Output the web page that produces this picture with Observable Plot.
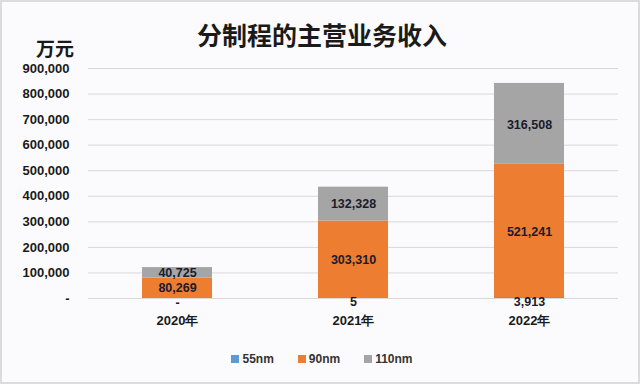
<!DOCTYPE html>
<html><head><meta charset="utf-8">
<script src="https://cdn.jsdelivr.net/npm/d3@7"></script>
<script src="https://cdn.jsdelivr.net/npm/@observablehq/plot@0.6"></script>
<style>
html,body{margin:0;padding:0;background:#fff;}
#wrap{position:relative;width:640px;height:384px;background:#fbfbfd;box-sizing:border-box;border:2px solid #dcdcdc;overflow:hidden;font-family:"Liberation Sans","Noto Sans CJK SC",sans-serif;}
#title{position:absolute;top:20px;left:0;width:640px;text-align:center;font:bold 25px/1 "Noto Sans CJK SC",sans-serif;color:#1a1a1a;}
#unit{position:absolute;top:36px;left:34px;font:bold 19px/1 "Noto Sans CJK SC",sans-serif;color:#1a1a1a;}
#chart{position:absolute;top:0;left:0;}
#legend{position:absolute;top:351px;left:0;width:640px;text-align:center;font:bold 12px/1 "Liberation Sans",sans-serif;color:#333;}
#legend span{display:inline-block;margin:0 12px;}
#legend i{display:inline-block;width:8px;height:8px;margin-right:3px;vertical-align:0px;}
</style></head>
<body>
<div id="wrap">
<div id="chart"></div>
<div id="title">分制程的主营业务收入</div>
<div id="unit">万元</div>
<div id="legend"></div>
</div>
<script>
const years = ["2020年", "2021年", "2022年"];
const seriesNames = ["55nm", "90nm", "110nm"];
const colors = ["#5B9BD5", "#ED7D31", "#A5A5A5"];
const v55 = [0, 5, 3913];
const v90 = [80269, 303310, 521241];
const v110 = [40725, 132328, 316508];
const yTicks = [0, 100000, 200000, 300000, 400000, 500000, 600000, 700000, 800000, 900000];

const values = [v55, v90, v110];
const data = [];
seriesNames.forEach((s, si) => years.forEach((y, yi) => data.push({year: y, series: s, value: values[si][yi]})));
const fmt = d => d === 0 ? "-" : d3.format(",")(d);

const chart = Plot.plot({
  width: 636, height: 380,
  marginTop: 66, marginBottom: 84, marginLeft: 86, marginRight: 20,
  style: {background: "transparent", fontFamily: "Liberation Sans, sans-serif"},
  x: {domain: years, label: null, paddingInner: 0.6, paddingOuter: 0.3, tickSize: 0, tickPadding: 17},
  y: {domain: [0, 900000], label: null, ticks: yTicks, tickFormat: fmt, tickSize: 0, tickPadding: 19},
  color: {domain: seriesNames, range: colors},
  marks: [
    Plot.ruleY(yTicks, {stroke: "#d9d9d9", strokeWidth: 1}),
    Plot.barY(data, {x: "year", y: "value", fill: "series", z: "series", order: seriesNames}),
    Plot.text(data, Plot.stackY({x: "year", y: "value", z: "series", order: seriesNames, text: d => fmt(d.value), fill: "#1b1b2b", fontWeight: "bold", fontSize: 12.5,
      filter: d => d.series !== "55nm"})),
    Plot.text(data, Plot.stackY({x: "year", y: "value", z: "series", order: seriesNames, text: d => fmt(d.value), fill: "#1b1b2b", fontWeight: "bold", fontSize: 12.5,
      filter: d => d.series === "55nm", dy: 4})),
    Plot.axisX({tickSize: 0, tickPadding: 17, fontWeight: "bold", fontSize: 13, fill: "#1a1a1a", label: null}),
    Plot.axisY({ticks: yTicks, tickFormat: fmt, tickSize: 0, tickPadding: 19, fontWeight: "bold", fontSize: 13, fill: "#1a1a1a", label: null})
  ]
});
document.getElementById("chart").appendChild(chart);

const lg = document.getElementById("legend");
seriesNames.forEach((s, i) => {
  const sp = document.createElement("span");
  sp.innerHTML = `<i style="background:${colors[i]}"></i>${s}`;
  lg.appendChild(sp);
});
</script>
</body></html>
